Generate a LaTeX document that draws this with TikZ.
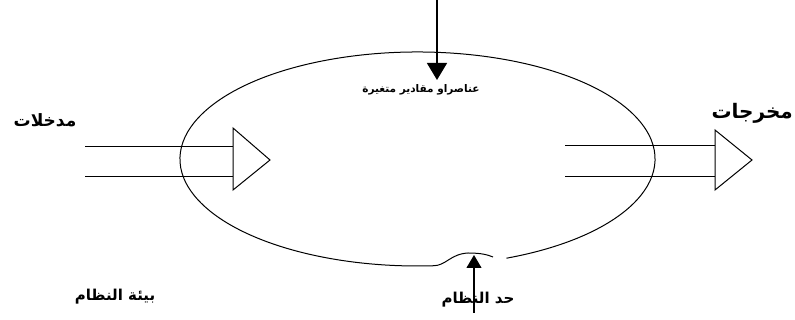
\documentclass[tikz,border=0pt]{standalone}
\usepackage{fontspec}
\newfontfamily\arabicfont[Script=Arabic]{DejaVu Sans}
\TeXXeTstate=1
\usetikzlibrary{arrows.meta}

\begin{document}
\begin{tikzpicture}[x=1pt,y=1pt]
 \tikzset{txt/.style={font=\arabicfont\bfseries\fontsize{15}{17}\selectfont}, thin line/.style={line width=1pt}, solidhead/.style={-{Triangle[length=17pt,width=20pt]}}}
  \useasboundingbox (0,0) rectangle (795,320);
  \node[txt, font=\arabicfont\bfseries\fontsize{17}{19}\selectfont] (IN) at (45,200) {\beginR مدخلات\endR};
  \node[txt, font=\arabicfont\bfseries\fontsize{20}{22}\selectfont, anchor=east, inner sep=1pt] (OUT) at (794,207) {\beginR مخرجات\endR};
  \node[txt, font=\arabicfont\bfseries\fontsize{10.5}{12}\selectfont] (VAR) at (421,230) {\beginR عناصراو مقادير متغيرة\endR};
  \node[txt] (LIM) at (478,20) {\beginR حد النظام\endR};
  \node[txt] (ENV) at (115,23) {\beginR بيئة النظام\endR};
  \coordinate (C) at (417.5,161);
  \coordinate (T0) at (437,320);
  \coordinate (T1) at (437,240);
  \coordinate (B0) at (474,7);
  \coordinate (B1) at (474,65);
  \coordinate (I1) at (85,173);
  \coordinate (I2) at (85,143);
  \coordinate (I3) at (233,173);
  \coordinate (I4) at (233,143);
  \coordinate (O1) at (565,174);
  \coordinate (O2) at (565,143);
  \coordinate (O3) at (715,174);
  \coordinate (O4) at (715,143);
  % system boundary, open at the bottom
  \draw[thin line] (C) ++(292:237.5 and 107) arc[start angle=292, end angle=633.7, x radius=237.5, y radius=107]
    .. controls (446,54) and (450,66) .. (468,67) .. controls (482,67) and (488,65) .. (493,63);
  % inputs
  \draw[thin line] (I1) -- (I3);
  \draw[thin line] (I2) -- (I4);
  \draw[thin line] (233,192) -- (270,160) -- (233,130) -- cycle;
  % outputs
  \draw[thin line] (O1) -- (O3);
  \draw[thin line] (O2) -- (O4);
  \draw[thin line] (715,190) -- (752,160) -- (715,130) -- cycle;
  \draw[line width=1.3pt, solidhead] (T0) -- (T1);
  \draw[line width=1.1pt, -{Triangle[length=13pt,width=15pt]}] (B0) -- (B1);
\end{tikzpicture}
\end{document}
